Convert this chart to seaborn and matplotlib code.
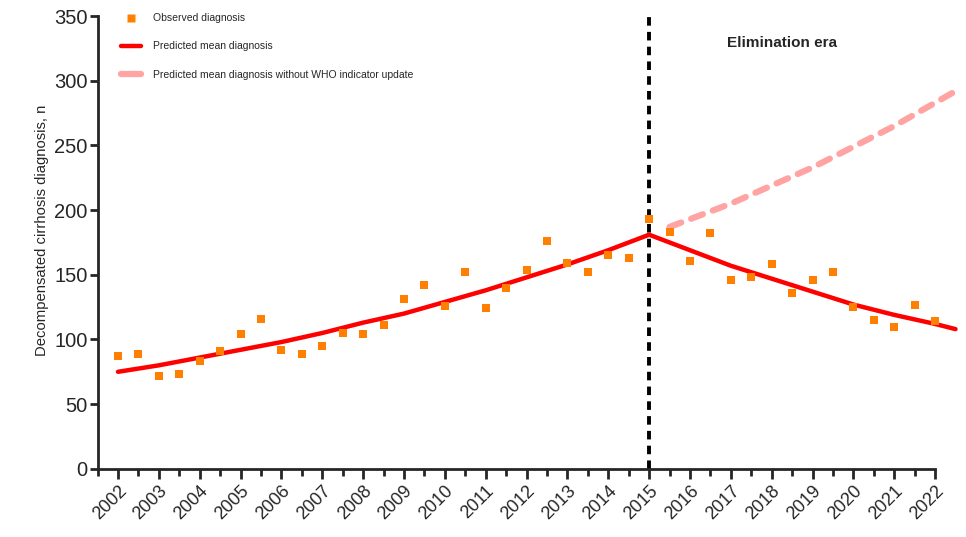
import numpy as np
import pandas as pd
import matplotlib
matplotlib.use('Agg')
import matplotlib.pyplot as plt
from matplotlib.lines import Line2D
from matplotlib.ticker import MultipleLocator
import seaborn as sns

# observed diagnoses, every half year 2002.0 .. 2022.0
obs_time = [2002 + 0.5 * i for i in range(41)]
obs_count = [87, 89, 72, 73, 83, 91, 104, 116, 92, 89,
             95, 105, 104, 111, 131, 142, 126, 152, 124, 140,
             154, 176, 159, 152, 165, 163, 193, 183, 161, 182,
             146, 148, 158, 136, 146, 152, 125, 115, 110, 127, 114]

# predicted mean (fitted segments)
pred_time = [2002, 2003, 2004, 2005, 2006, 2007, 2008, 2009, 2010, 2011, 2012, 2013, 2014,
             2015, 2016, 2017, 2018, 2019, 2020, 2021, 2022, 2022.5]
pred_mean = [75, 80, 86, 92, 98, 105, 113, 120, 129, 138, 148, 158, 169,
             181, 169, 157, 147, 137, 127, 119, 112, 108]

# predicted without WHO indicator update
noupd_time = [2015.5, 2016, 2017, 2018, 2019, 2020, 2021, 2022, 2022.5]
noupd_mean = [187, 193, 205, 219, 233, 249, 265, 283, 292]

year_ticks = list(range(2002, 2023))

ORANGE = '#ff8000'
RED = '#ff0000'
PINK = '#ffa3a3'

sns.set_style('ticks')
plt.rcParams['font.family'] = ['Liberation Sans', 'DejaVu Sans']

fig = plt.figure(figsize=(9.66, 5.37), dpi=100)
ax = fig.add_axes([0.101, 0.127, 0.867, 0.843])

obs_df = pd.DataFrame({'year': obs_time, 'n': obs_count})
pred_df = pd.DataFrame({'year': pred_time, 'n': pred_mean})
noupd_df = pd.DataFrame({'year': noupd_time, 'n': noupd_mean})

ax.axvline(2015, ymin=0, ymax=1, color='black', lw=2.8, ls=(0, (2.2, 1.6)), zorder=1)

l1 = sns.lineplot(x='year', y='n', data=noupd_df, ax=ax, color=PINK, lw=4.5, zorder=2)
l1.lines[-1].set_dashes((2.0, 1.7))
l1.lines[-1].set_dash_capstyle('round')
l1.lines[-1].set_clip_on(False)
sns.lineplot(x='year', y='n', data=pred_df, ax=ax, color=RED, lw=3.2, zorder=3)
ax.lines[-1].set_clip_on(False)
sns.scatterplot(x='year', y='n', data=obs_df, ax=ax, color=ORANGE, marker='s', s=38,
                linewidth=0, zorder=4, clip_on=False)

ax.set_xlim(2001.5, 2022)
ax.set_ylim(0, 350)
ax.yaxis.set_major_locator(MultipleLocator(50))
ax.set_xticks(year_ticks)
ax.xaxis.set_minor_locator(MultipleLocator(0.5))
ax.set_xticklabels([str(y) for y in year_ticks], rotation=45, ha='right',
                   rotation_mode='anchor', fontsize=13)
ax.tick_params(axis='y', labelsize=14.5, width=2, length=6, pad=1)
ax.tick_params(axis='x', which='major', width=2, length=7, pad=3)
ax.tick_params(axis='x', which='minor', width=2, length=5)
ax.set_xlabel('')
ax.set_ylabel('Decompensated cirrhosis diagnosis, n', fontsize=10.7)
ax.yaxis.set_label_coords(-0.058, 0.527)
for side in ['left', 'bottom']:
    ax.spines[side].set_linewidth(2)
sns.despine(ax=ax)

ax.text(2018.25, 329, 'Elimination era', fontsize=11, fontweight='bold', ha='center', va='center')

handles = [Line2D([0], [0], marker='s', color='none', markerfacecolor=ORANGE,
                  markeredgecolor='none', markersize=6),
           Line2D([0], [0], color=RED, lw=3.2),
           Line2D([0], [0], color=PINK, lw=4.5, solid_capstyle='round')]
labels = ['Observed diagnosis', 'Predicted mean diagnosis',
          'Predicted mean diagnosis without WHO indicator update']
ax.legend(handles, labels, loc='upper left', bbox_to_anchor=(0.017, 1.027), frameon=False,
          fontsize=7.5, labelspacing=1.75, handlelength=1.9, handletextpad=1.2)

fig.savefig('out.png', dpi=100)
